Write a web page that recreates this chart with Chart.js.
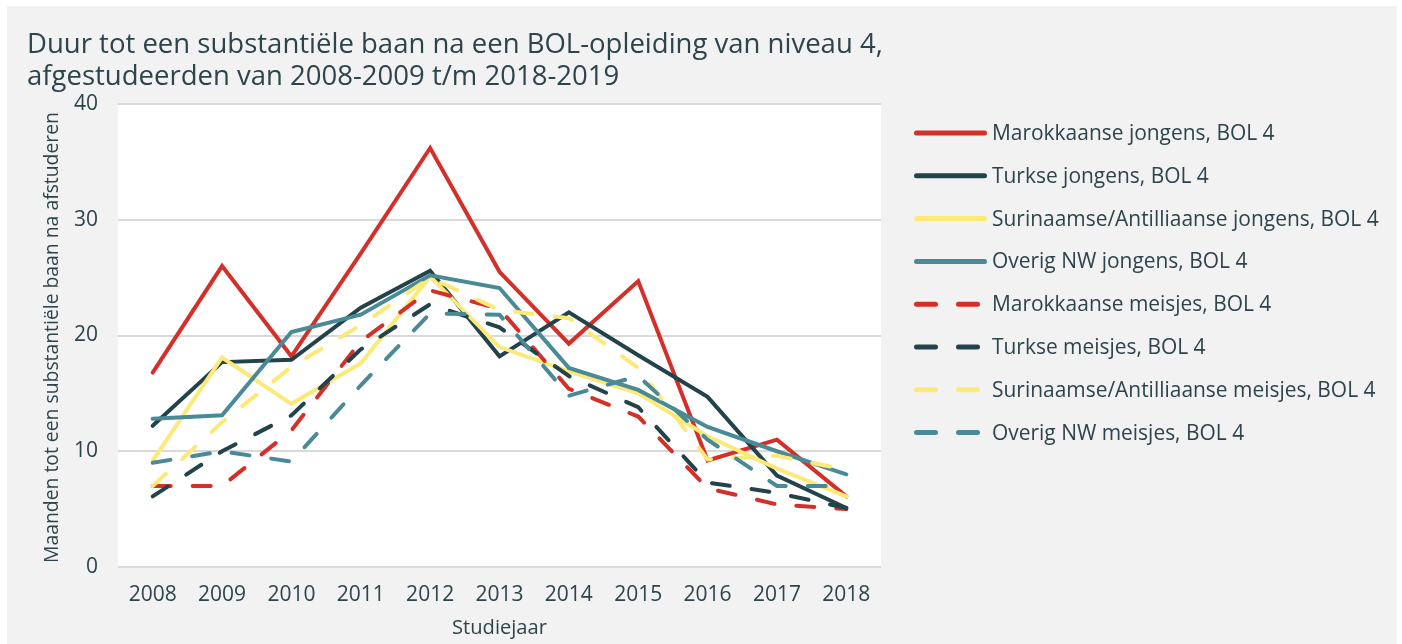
<!DOCTYPE html>
<html>
<head>
<meta charset="utf-8">
<script src="https://cdn.jsdelivr.net/npm/chart.js@4.4.1/dist/chart.umd.min.js"></script>
<style>
  html, body { margin: 0; padding: 0; background: #ffffff; }
  #panel { position: absolute; left: 7px; top: 6px; width: 1390px; height: 638px; background: #f2f2f2; }
  #wrap { position: absolute; left: 0; top: 0; width: 1402px; height: 644px; }
</style>
</head>
<body>
<div id="panel"></div>
<div id="wrap"><canvas id="c" width="1402" height="644"></canvas></div>
<script>
const years = ['2008','2009','2010','2011','2012','2013','2014','2015','2016','2017','2018'];
const yTicks = [0, 10, 20, 30, 40];

const marokkaanseJongens  = [16.8, 26.0, 18.2, 27.1, 36.2, 25.5, 19.3, 24.7, 9.2, 11.0, 6.1];
const turkseJongens       = [12.2, 17.7, 17.9, 22.4, 25.6, 18.2, 22.0, 18.3, 14.7, 7.9, 5.1];
const surinaamseJongens   = [9.2, 18.1, 14.1, 17.6, 25.1, 19.0, 16.9, 15.0, 11.3, 8.5, 6.1];
const overigNWJongens     = [12.8, 13.1, 20.3, 21.8, 25.2, 24.1, 17.2, 15.3, 12.1, 10.0, 8.0];
const marokkaanseMeisjes  = [7.0, 7.0, 11.8, 19.5, 23.9, 22.3, 15.4, 13.0, 6.8, 5.4, 5.0];
const turkseMeisjes       = [6.1, 10.0, 13.1, 18.8, 22.7, 20.7, 16.5, 13.8, 7.3, 6.4, 5.1];
const surinaamseMeisjes   = [7.0, 12.5, 17.3, 20.9, 25.0, 22.2, 21.5, 17.2, 9.3, 9.6, 8.4];
const overigNWMeisjes     = [9.0, 10.0, 9.1, 15.7, 21.9, 21.8, 14.8, 16.5, 11.0, 7.0, 7.0];

const seriesLabels = [
  'Marokkaanse jongens, BOL 4',
  'Turkse jongens, BOL 4',
  'Surinaamse/Antilliaanse jongens, BOL 4',
  'Overig NW jongens, BOL 4',
  'Marokkaanse meisjes, BOL 4',
  'Turkse meisjes, BOL 4',
  'Surinaamse/Antilliaanse meisjes, BOL 4',
  'Overig NW meisjes, BOL 4'
];
const seriesValues = [marokkaanseJongens, turkseJongens, surinaamseJongens, overigNWJongens,
                      marokkaanseMeisjes, turkseMeisjes, surinaamseMeisjes, overigNWMeisjes];
const seriesColors = ['#d42f28', '#23434b', '#fde977', '#4a8a96', '#d42f28', '#23434b', '#fde977', '#4a8a96'];
const seriesDashed = [false, false, false, false, true, true, true, true];

const titleLines = ['Duur tot een substantiële baan na een BOL-opleiding van niveau 4,',
                    'afgestudeerden van 2008-2009 t/m 2018-2019'];
const yTitle = 'Maanden tot een substantiële baan na afstuderen';
const xTitle = 'Studiejaar';

const TEXT = '#2d444c';
const FONT = '"Open Sans", Lato, sans-serif';

// font size that makes a text span a given width (matching the reference layout)
function fitFont(ctx, text, width, base) {
  ctx.font = base + 'px ' + FONT;
  const w = ctx.measureText(text).width;
  return (base * width / w).toFixed(2) + 'px ' + FONT;
}

const datasets = seriesValues.map((vals, i) => ({
  label: seriesLabels[i],
  data: vals,
  borderColor: seriesColors[i],
  backgroundColor: seriesColors[i],
  borderWidth: 4,
  borderDash: seriesDashed[i] ? [18, 22] : [],
  borderCapStyle: 'round',
  borderJoinStyle: 'miter',
  pointRadius: 0,
  pointHoverRadius: 0,
  tension: 0,
  fill: false,
  order: seriesLabels.length - i
}));

const decor = {
  id: 'decor',
  beforeDraw(chart) {
    const { ctx, chartArea: a } = chart;
    ctx.save();
    ctx.fillStyle = '#ffffff';
    ctx.fillRect(a.left, a.top, a.right - a.left, a.bottom - a.top);
    ctx.restore();
  },
  afterDraw(chart) {
    const ctx = chart.ctx;
    const a = chart.chartArea;
    ctx.save();
    ctx.fillStyle = TEXT;
    // title
    ctx.font = fitFont(ctx, titleLines[0], 856, 24);
    ctx.textAlign = 'left';
    ctx.textBaseline = 'middle';
    titleLines.forEach((t, i) => ctx.fillText(t, 27, 45 + i * 32));
    // y title
    ctx.save();
    ctx.font = fitFont(ctx, yTitle, 451, 18);
    ctx.translate(52, (a.top + a.bottom) / 2 + 2);
    ctx.rotate(-Math.PI / 2);
    ctx.textAlign = 'center';
    ctx.fillText(yTitle, 0, 0);
    ctx.restore();
    // x title
    ctx.font = fitFont(ctx, xTitle, 95, 18);
    ctx.textAlign = 'center';
    ctx.fillText(xTitle, (a.left + a.right) / 2, 628);
    // legend
    const legendFont = fitFont(ctx, seriesLabels[2], 387, 19);
    chart.data.datasets.forEach((ds, i) => {
      const y = 133 + i * 42.8;
      ctx.save();
      ctx.strokeStyle = ds.borderColor;
      ctx.lineWidth = 5;
      ctx.lineCap = 'round';
      ctx.beginPath();
      if (ds.borderDash.length) {
        ctx.setLineDash([19, 23]);
        ctx.moveTo(916.5, y);
        ctx.lineTo(977.5, y);
      } else {
        ctx.moveTo(916.5, y);
        ctx.lineTo(984.5, y);
      }
      ctx.stroke();
      ctx.restore();
      ctx.font = legendFont;
      ctx.textAlign = 'left';
      ctx.textBaseline = 'middle';
      ctx.fillStyle = TEXT;
      ctx.fillText(ds.label, 992, y + 1);
    });
    ctx.restore();
  }
};

new Chart(document.getElementById('c'), {
  type: 'line',
  data: { labels: years, datasets },
  options: {
    responsive: false,
    animation: false,
    events: [],
    layout: { padding: { left: 0, top: 104, right: 521, bottom: 0 } },
    plugins: { legend: { display: false }, title: { display: false }, tooltip: { enabled: false } },
    scales: {
      x: {
        offset: true,
        grid: { display: false, drawTicks: false },
        border: { display: false },
        ticks: { color: TEXT, font: { family: FONT, size: 21 }, padding: 15, maxRotation: 0 },
        afterFit(scale) { scale.height = 77; }
      },
      y: {
        min: 0, max: 40,
        afterBuildTicks(scale) { scale.ticks = yTicks.map(v => ({ value: v })); },
        grid: { color: '#d9d9d9', lineWidth: 2, drawTicks: false },
        border: { display: false },
        ticks: { color: TEXT, font: { family: FONT, size: 21 }, padding: 20 },
        afterFit(scale) { scale.width = 118; }
      }
    }
  },
  plugins: [decor]
});
</script>
</body>
</html>
